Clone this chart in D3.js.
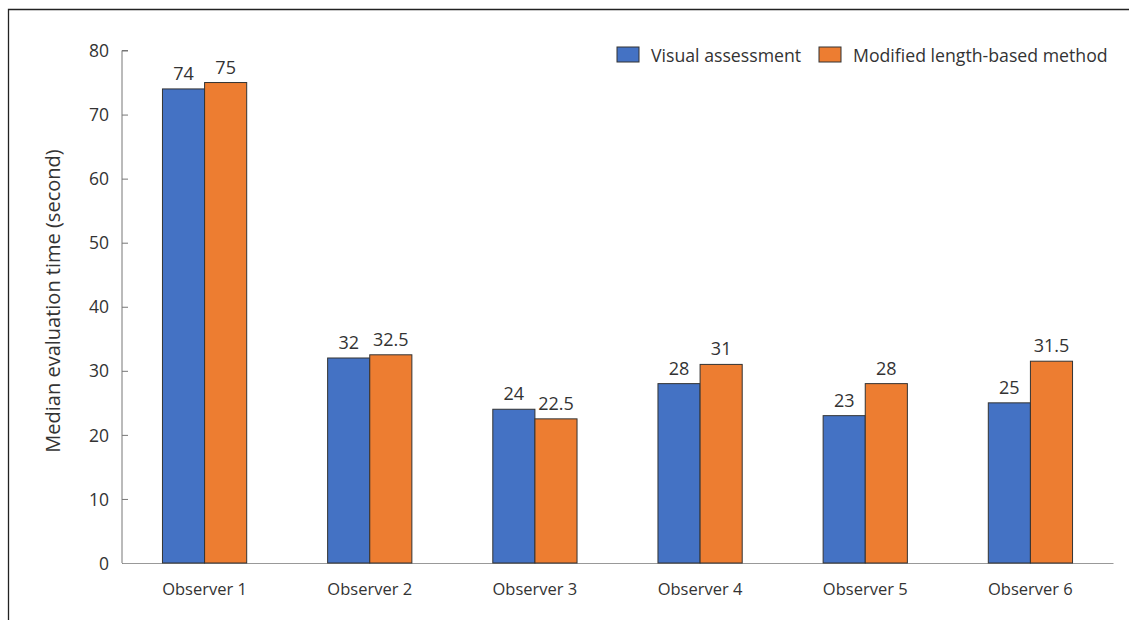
<!DOCTYPE html>
<html><head><meta charset="utf-8">
<script src="https://cdn.jsdelivr.net/npm/d3@7"></script>
<style>
html,body{margin:0;padding:0;background:#fff;}
svg{display:block;font-family:"Open Sans","Noto Sans",sans-serif;}
</style></head>
<body>
<svg id="c" width="1129" height="620"></svg>
<script>
const categories = ["Observer 1","Observer 2","Observer 3","Observer 4","Observer 5","Observer 6"];
const seriesNames = ["Visual assessment","Modified length-based method"];
const visual = [74, 32, 24, 28, 23, 25];
const modified = [75, 32.5, 22.5, 31, 28, 31.5];
const yTicks = [0,10,20,30,40,50,60,70,80];
const colors = ["#4472C4","#ED7D31"];
const FONT = "'Open Sans','Noto Sans',sans-serif";

const svg = d3.select("#c");
// frame (top and left)
svg.append("path").attr("d","M8.5,620 V9.5 H1129").attr("fill","none").attr("stroke","#222").attr("stroke-width",1.3);

const x0 = d3.scaleBand().domain(categories).range([122,1113]).paddingInner(0.49).paddingOuter(0.245);
const x1 = d3.scaleBand().domain(seriesNames).range([0,x0.bandwidth()]);
const y = d3.scaleLinear().domain([0,80]).range([563,50.5]);

const data = categories.map((c,i)=>({cat:c, vals:[visual[i], modified[i]]}));

// axes
const yAxis = svg.append("g").attr("transform","translate(122,0)")
  .call(d3.axisRight(y).tickValues(yTicks).tickSize(6).tickFormat(d3.format("d")))
  .attr("font-family",FONT);
yAxis.select(".domain").attr("stroke","#777").attr("d","M6,50.5H0V563");
yAxis.selectAll(".tick line").attr("stroke","#777");
yAxis.selectAll(".tick text").attr("x",-13).attr("text-anchor","end").attr("dy","0.35em")
  .attr("font-size",17.5).attr("fill","#333");

const xAxis = svg.append("g").attr("transform","translate(0,563)")
  .call(d3.axisBottom(x0).tickSize(0).tickSizeOuter(0))
  .attr("font-family",FONT);
xAxis.select(".domain").attr("stroke","#999").attr("stroke-width",1.2);
xAxis.selectAll(".tick text").attr("y",32).attr("dy",0).attr("font-size",16.5).attr("fill","#333");

// bars
const g = svg.append("g").selectAll("g").data(data).join("g")
  .attr("transform",d=>`translate(${x0(d.cat)},0)`);
g.selectAll("rect").data(d=>d.vals.map((v,j)=>({v,j}))).join("rect")
  .attr("x",d=>x1(seriesNames[d.j]))
  .attr("y",d=>y(d.v))
  .attr("width",x1.bandwidth())
  .attr("height",d=>y(0)-y(d.v))
  .attr("fill",d=>colors[d.j])
  .attr("stroke","#333").attr("stroke-width",1);
g.selectAll("text").data(d=>d.vals.map((v,j)=>({v,j}))).join("text")
  .attr("x",d=>x1(seriesNames[d.j])+x1.bandwidth()/2)
  .attr("y",d=>y(d.v)-9)
  .attr("text-anchor","middle").attr("font-size",18).attr("fill","#333")
  .text(d=>d.v);

// y label
svg.append("text").attr("transform","translate(60,301) rotate(-90)")
  .attr("text-anchor","middle").attr("font-size",20).attr("fill","#333")
  .text("Median evaluation time (second)");

// legend
const legX = [617, 819];
const leg = svg.append("g");
seriesNames.forEach((s,i)=>{
  leg.append("rect").attr("x",legX[i]).attr("y",47).attr("width",22).attr("height",15)
    .attr("fill",colors[i]).attr("stroke","#333").attr("stroke-width",1);
  leg.append("text").attr("x",legX[i]+34).attr("y",62).attr("font-size",17.7).attr("fill","#333").text(s);
});
</script>
</body></html>
